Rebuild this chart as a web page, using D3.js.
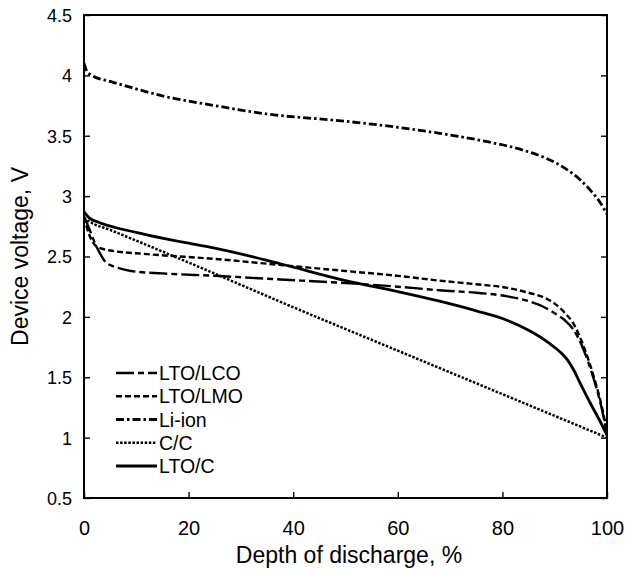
<!DOCTYPE html>
<html>
<head>
<meta charset="utf-8">
<script src="https://cdn.jsdelivr.net/npm/d3@7"></script>
<style>
  html, body { margin: 0; padding: 0; background: #fff; }
  svg { display: block; font-family: "Liberation Sans", Arial, Helvetica, sans-serif; }
</style>
</head>
<body>
<svg id="chart" width="626" height="575"></svg>
<script>
// Depth of discharge (%) and device voltage (V) for each cell chemistry
const ltoLcoX = [0, 1, 2, 3, 4, 5.5, 7, 9, 15, 25, 37.5, 50, 60, 68, 75, 81, 85, 88, 90, 92, 93.5, 95.5, 97.5, 99, 100];
const ltoLcoV = [2.83, 2.73, 2.62, 2.53, 2.46, 2.42, 2.40, 2.38, 2.36, 2.34, 2.31, 2.28, 2.25, 2.22, 2.20, 2.17, 2.13, 2.08, 2.03, 1.97, 1.90, 1.73, 1.48, 1.24, 1.03];

const ltoLmoX = [0, 1, 2.5, 5, 12, 25, 37.5, 50, 60, 68, 75, 81, 85, 88, 90, 92, 93.5, 95.5, 97.5, 99, 100];
const ltoLmoV = [2.83, 2.68, 2.58, 2.55, 2.52, 2.48, 2.43, 2.38, 2.34, 2.30, 2.27, 2.24, 2.20, 2.16, 2.11, 2.03, 1.95, 1.76, 1.50, 1.26, 1.05];

const liIonX = [0, 0.5, 1.5, 5, 9, 15, 25, 35, 50, 60, 68, 76, 84, 88, 92, 95, 97, 98.5, 100];
const liIonV = [4.10, 4.04, 4.00, 3.95, 3.90, 3.83, 3.75, 3.68, 3.62, 3.57, 3.52, 3.46, 3.38, 3.32, 3.23, 3.13, 3.04, 2.96, 2.85];

const ccX = [0, 1, 5, 20, 40, 60, 80, 100];
const ccV = [2.82, 2.79, 2.72, 2.45, 2.08, 1.72, 1.36, 1.00];

const ltoCX = [0, 1, 3, 6, 12, 20, 25, 37.5, 50, 60, 68, 75, 81, 85, 87, 89, 90.5, 91.5, 92.5, 93.5, 95, 97, 98.5, 100];
const ltoCV = [2.87, 2.82, 2.78, 2.74, 2.68, 2.61, 2.57, 2.44, 2.30, 2.21, 2.13, 2.05, 1.97, 1.89, 1.84, 1.78, 1.73, 1.69, 1.64, 1.57, 1.44, 1.27, 1.15, 1.02];

const seriesNames = ["LTO/LCO", "LTO/LMO", "Li-ion", "C/C", "LTO/C"];
const xTicks = [0, 20, 40, 60, 80, 100];
const yTicks = [0.5, 1, 1.5, 2, 2.5, 3, 3.5, 4, 4.5];

const series = [
  { name: seriesNames[0], x: ltoLcoX, v: ltoLcoV, dash: "18,4,6,4", width: 2.4 },
  { name: seriesNames[1], x: ltoLmoX, v: ltoLmoV, dash: "6,3", width: 2.4 },
  { name: seriesNames[2], x: liIonX, v: liIonV, dash: "8,3,2.5,3", width: 2.8 },
  { name: seriesNames[3], x: ccX, v: ccV, dash: "2.5,1.6", width: 2.5 },
  { name: seriesNames[4], x: ltoCX, v: ltoCV, dash: null, width: 2.8 }
];

const svg = d3.select("#chart");
const plotL = 84, plotR = 607, plotT = 15, plotB = 498;

const x = d3.scaleLinear().domain([0, 100]).range([plotL, plotR]);
const y = d3.scaleLinear().domain([0.5, 4.5]).range([plotB, plotT]);

// axes with inward ticks
const gx = svg.append("g").attr("transform", `translate(0,${plotB})`)
  .call(d3.axisBottom(x).tickValues(xTicks).tickSize(-6).tickPadding(22).tickFormat(d3.format("d")));
gx.select(".domain").remove();
gx.selectAll("text").attr("font-size", 20).attr("fill", "#000").attr("dy", null).attr("y", 37);
gx.selectAll("line").attr("stroke", "#000").attr("stroke-width", 1.4);

const gy = svg.append("g").attr("transform", `translate(${plotL},0)`)
  .call(d3.axisLeft(y).tickValues(yTicks).tickSize(-6).tickPadding(12).tickFormat(d => String(d)));
gy.select(".domain").remove();
gy.selectAll("text").attr("font-size", 18).attr("fill", "#000").attr("dy", "0.36em");
gy.selectAll("line").attr("stroke", "#000").attr("stroke-width", 1.4);

const gr = svg.append("g").attr("transform", `translate(${plotR},0)`)
  .call(d3.axisRight(y).tickValues(yTicks).tickSize(-6).tickFormat(""));
gr.select(".domain").remove();
gr.selectAll("line").attr("stroke", "#000").attr("stroke-width", 1.4);

// plot frame
svg.append("rect")
  .attr("x", plotL).attr("y", plotT)
  .attr("width", plotR - plotL).attr("height", plotB - plotT)
  .attr("fill", "none").attr("stroke", "#000").attr("stroke-width", 2);

// curves
svg.append("clipPath").attr("id", "plotclip").append("rect")
  .attr("x", plotL).attr("y", plotT).attr("width", plotR - plotL).attr("height", plotB - plotT);

const line = d3.line()
  .x(d => x(d[0]))
  .y(d => y(d[1]))
  .curve(d3.curveMonotoneX);

svg.append("g").attr("clip-path", "url(#plotclip)")
  .selectAll("path")
  .data(series)
  .join("path")
  .attr("d", s => line(s.x.map((xv, i) => [xv, s.v[i]])))
  .attr("fill", "none")
  .attr("stroke", "#000")
  .attr("stroke-width", s => s.width)
  .attr("stroke-dasharray", s => s.dash)
  .attr("stroke-linejoin", "round");

// legend
const legend = svg.append("g");
const rowY = d3.scaleLinear().domain([0, 4]).range([373, 466]);
const item = legend.selectAll("g").data(series).join("g")
  .attr("transform", (s, i) => `translate(0,${rowY(i)})`);
item.append("line")
  .attr("x1", 116).attr("x2", 157).attr("y1", 0).attr("y2", 0)
  .attr("stroke", "#000")
  .attr("stroke-width", s => s.width)
  .attr("stroke-dasharray", s => s.dash);
item.append("text")
  .attr("x", 159).attr("y", 0).attr("dy", "0.36em")
  .attr("font-size", 19.5)
  .text(s => s.name);

// axis titles
svg.append("text")
  .attr("x", 349).attr("y", 563)
  .attr("text-anchor", "middle").attr("font-size", 23)
  .text("Depth of discharge, %");

svg.append("text")
  .attr("transform", `translate(28,${(plotT + plotB) / 2}) rotate(-90)`)
  .attr("text-anchor", "middle").attr("font-size", 23)
  .text("Device voltage, V");
</script>
</body>
</html>
